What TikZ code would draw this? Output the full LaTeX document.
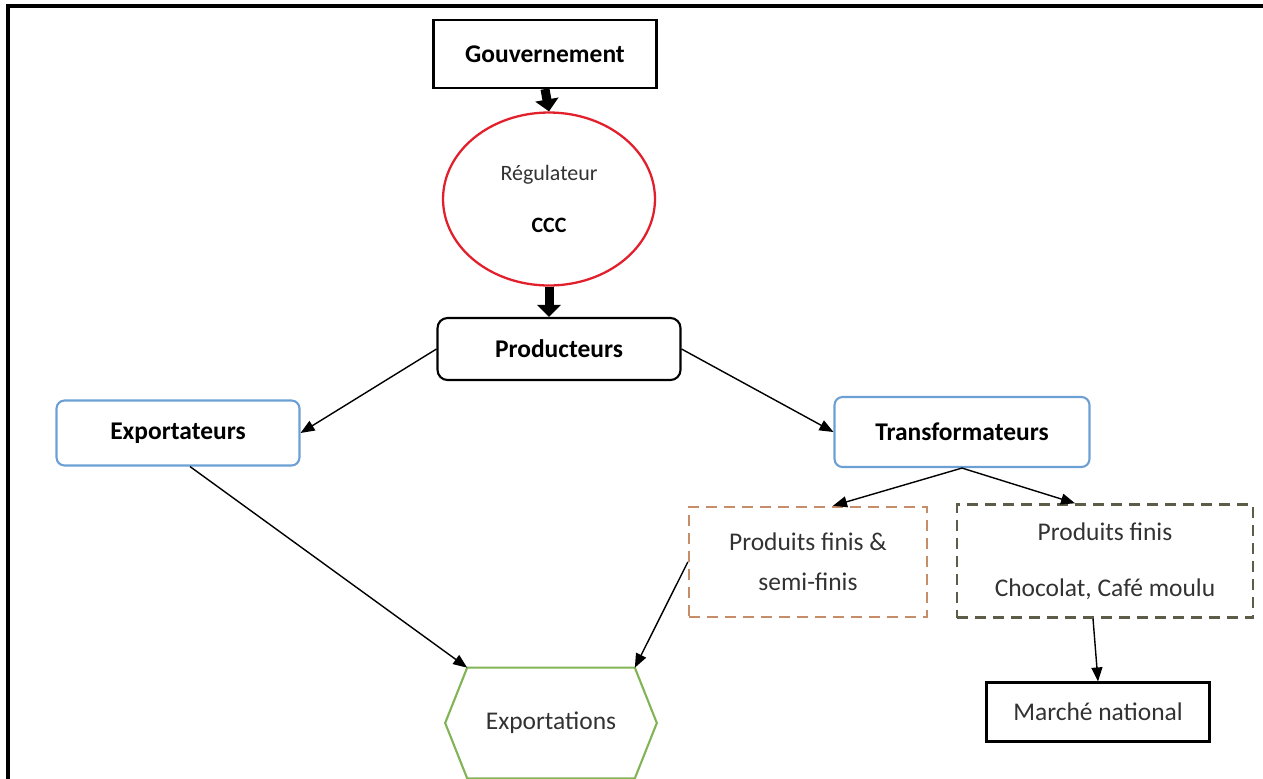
\documentclass[tikz,border=0pt]{standalone}
\usepackage{fontspec}
\setmainfont{Carlito}
\usepackage{xcolor}
\usetikzlibrary{arrows.meta,positioning,shapes.geometric}

\definecolor{regred}{RGB}{226,32,44}
\definecolor{boxblue}{RGB}{108,160,212}
\definecolor{hexgreen}{RGB}{128,180,84}
\definecolor{dashorange}{RGB}{198,142,104}
\definecolor{dasholive}{RGB}{92,92,72}
\definecolor{txtgray}{RGB}{50,50,50}

\begin{document}
\begin{tikzpicture}[
    x=0.02cm,y=-0.02cm,
    sharp/.style={draw, line width=1.2pt, align=center, inner sep=2pt,
                  font=\fontsize{14.5}{17}\selectfont},
    actor/.style={draw, rounded corners=2mm, line width=1.2pt, align=center,
                  inner sep=2pt, font=\fontsize{14.5}{17}\selectfont\bfseries},
    bluebox/.style={actor, draw=boxblue, rounded corners=1.6mm},
    prodbox/.style={draw, dashed, dash pattern=on 2.2mm off 1.4mm, line width=1.4pt,
                    align=center, inner sep=2pt, text=txtgray,
                    font=\fontsize{14.5}{17}\selectfont},
    arr/.style={-{Triangle[length=2.8mm,width=2.2mm]}, line width=0.8pt},
    bigarr/.style={-{Triangle[length=2.4mm,width=4.6mm]}, line width=1.8mm}
]
\useasboundingbox (0,0) rectangle (1263,778);
% frame (only top and left edges show)
\draw[line width=2.2pt] (8,800) -- (8,6) -- (1280,6);

% Government and regulator
\node[sharp, font=\fontsize{14.5}{17}\selectfont\bfseries, minimum width=4.46cm,
      minimum height=1.36cm] (gouv) at (545,54) {Gouvernement};
\node[draw=regred, ellipse, line width=1.3pt, align=center, inner sep=0pt,
      minimum width=4.24cm, minimum height=3.46cm, text=txtgray,
      font=\fontsize{12.5}{14}\selectfont] (reg) at (549,199)
      {R\'egulateur\\[16pt]\textcolor{black}{\bfseries CCC}};
\draw[bigarr] (gouv.south) -- (reg.north);

% Producers
\node[actor, minimum width=4.86cm, minimum height=1.24cm] (prod) at (559,349) {Producteurs};
\draw[bigarr] (reg.south) -- (reg.south |- prod.north);

% Exporters and processors
\node[bluebox, minimum width=4.86cm, minimum height=1.3cm] (exp) at (178,433) {Exportateurs};
\node[bluebox, minimum width=5.1cm, minimum height=1.4cm] (trans) at (962,432) {Transformateurs};
\draw[arr] (prod.west) -- (exp.east);
\draw[arr] (prod.east) -- (trans.west);

% Products
\node[prodbox, draw=dashorange, minimum width=4.76cm, minimum height=2.2cm] (semi) at (808,562)
      {Produits finis \&\\[6pt]semi-finis};
\node[prodbox, draw=dasholive, minimum width=5.92cm, minimum height=2.26cm] (finis) at (1105,561)
      {Produits finis\\[15pt]Chocolat, Caf\'e moulu};
\draw[arr] (trans.south) -- ([xshift=0.5cm]semi.north);
\draw[arr] (trans.south) -- ([xshift=-0.6cm]finis.north);

% Home market
\node[sharp, minimum width=4.46cm, minimum height=1.18cm, text=txtgray] (marche) at (1098,712)
      {March\'e national};
\draw[arr] ([xshift=-0.24cm]finis.south) -- (marche.north);

% Exports (hexagon)
\node[minimum width=3.34cm, minimum height=2.2cm, text=txtgray,
      font=\fontsize{14.5}{17}\selectfont] (expo) at (551,723) {Exportations};
\draw[hexgreen, line width=1.2pt] (expo.north west) -- (expo.north east)
      -- ([xshift=0.44cm]expo.east) -- (expo.south east) -- (expo.south west)
      -- ([xshift=-0.44cm]expo.west) -- cycle;
\draw[arr] ([xshift=0.24cm]exp.south) -- (expo.north west);
\draw[arr] (semi.west) -- (expo.north east);
\end{tikzpicture}
\end{document}
